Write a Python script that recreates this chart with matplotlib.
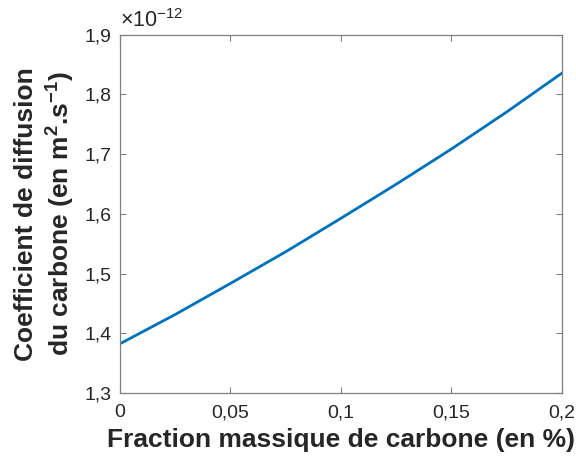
import matplotlib.pyplot as plt
import numpy as np

plt.rcParams['font.family'] = ['Liberation Sans', 'DejaVu Sans']
plt.rcParams['mathtext.fontset'] = 'custom'
plt.rcParams['mathtext.rm'] = 'Liberation Sans'
plt.rcParams['mathtext.bf'] = 'Liberation Sans:bold'

# fraction massique de carbone (%) et coefficient de diffusion (x 1e-12 m2/s)
frac = [0, 0.025, 0.05, 0.075, 0.1, 0.125, 0.15, 0.175, 0.2]
diff = [1.382, 1.431, 1.483, 1.536, 1.592, 1.649, 1.708, 1.770, 1.835]
xticks = [0, 0.05, 0.1, 0.15, 0.2]
yticks = [1.3, 1.4, 1.5, 1.6, 1.7, 1.8, 1.9]

def virg(v):
    s = ('%g' % v).replace('.', ',')
    return s

fig = plt.figure(figsize=(5.76, 4.59), dpi=100)
ax = fig.add_axes([0.2075, 0.1438, 0.7675, 0.781])
ax.plot(frac, diff, color='#0072BD', lw=2)

ax.set_xlim(0, 0.2)
ax.set_ylim(1.3, 1.9)
ax.set_xticks(xticks)
ax.set_xticklabels([virg(v) for v in xticks])
ax.set_yticks(yticks)
ax.set_yticklabels([virg(v) for v in yticks])
ax.tick_params(direction='in', top=True, right=True, length=4, width=0.8,
               color='#808080', labelcolor='#262626', labelsize=14, pad=6)
ax.tick_params(axis='x', pad=8)
for sp in ax.spines.values():
    sp.set_color('#808080')
    sp.set_linewidth(0.9)

ax.set_xlabel('Fraction massique de carbone (en %)', fontsize=19,
              fontweight='bold', color='#262626', labelpad=5)
ax.set_ylabel('Coefficient de diffusion\ndu carbone (en m$^{\\mathbf{2}}$.s$^{\\mathbf{-1}}$)',
              fontsize=19, fontweight='bold', color='#262626', labelpad=6,
              linespacing=1.2)
ax.text(0.0, 1.008, r'$\times$10$^{-12}$', transform=ax.transAxes,
        fontsize=15.5, color='#262626', ha='left', va='bottom')

fig.savefig('out.png', dpi=100)
